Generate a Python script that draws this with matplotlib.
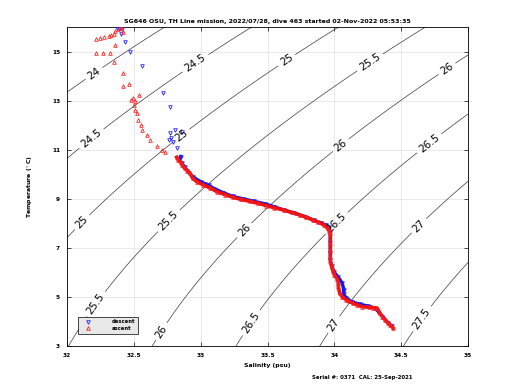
import numpy as np
import matplotlib
matplotlib.use("Agg")
import matplotlib.pyplot as plt

title = "SG646 OSU, TH Line mission, 2022/07/28, dive 463 started 02-Nov-2022 05:53:35"
footer = "Serial #: 0371  CAL: 25-Sep-2021"
x_ticks = [32, 32.5, 33, 33.5, 34, 34.5, 35]
y_ticks = [3, 5, 7, 9, 11, 13, 15]
sigma_levels = [24, 24.5, 25, 25.5, 26, 26.5, 27, 27.5]

# Descent (blue) salinity / temperature
desc_S = [32.37, 32.39, 32.41, 32.40, 32.43, 32.47, 32.56, 32.72, 32.77, 32.81,
          32.86, 32.77, 32.78, 32.76, 32.79, 32.82, 32.85, 32.84, 32.86, 32.88,
          32.90, 32.94, 33.00, 33.03, 33.06, 33.10, 33.17, 33.24, 33.32, 33.40,
          33.48, 33.55, 33.62, 33.70, 33.78, 33.85, 33.90, 33.94, 33.96, 33.97,
          33.97, 33.97, 33.97, 33.98, 34.00, 34.03, 34.06, 34.07, 34.07, 34.09,
          34.13, 34.19, 34.25, 34.30, 34.33, 34.36, 34.40, 34.43]
desc_T = [15.98, 15.95, 15.92, 15.75, 15.42, 15.00, 14.43, 13.31, 12.77, 11.82,
          11.75, 11.68, 11.50, 11.41, 11.34, 11.07, 10.73, 10.60, 10.45, 10.30,
          10.15, 9.90, 9.70, 9.62, 9.55, 9.42, 9.25, 9.10, 9.00, 8.90,
          8.80, 8.68, 8.55, 8.42, 8.28, 8.12, 8.02, 7.92, 7.80, 7.60,
          7.20, 6.80, 6.50, 6.25, 6.00, 5.80, 5.55, 5.30, 5.10, 4.95,
          4.80, 4.70, 4.63, 4.55, 4.40, 4.20, 3.95, 3.80]

# Ascent (red) salinity / temperature
asc_S = [34.44, 34.42, 34.40, 34.38, 34.36, 34.34, 34.32, 34.29, 34.26, 34.21,
         34.17, 34.14, 34.11, 34.09, 34.06, 34.04, 34.03, 34.03, 34.02, 34.00,
         33.99, 33.98, 33.97, 33.97, 33.97, 33.97, 33.97, 33.96, 33.95, 33.92,
         33.88, 33.84, 33.79, 33.74, 33.68, 33.62, 33.55, 33.49, 33.43, 33.37,
         33.30, 33.24, 33.18, 33.12, 33.07, 33.02, 32.97, 32.94, 32.92, 32.90,
         32.88, 32.86, 32.85, 32.83, 32.82,
         32.73, 32.71, 32.67, 32.62, 32.60, 32.56, 32.55, 32.53, 32.52, 32.51,
         32.50, 32.51, 32.49, 32.48, 32.54, 32.46, 32.42, 32.42, 32.35, 32.32,
         32.27, 32.22, 32.36, 32.22, 32.25, 32.28, 32.31, 32.33, 32.35, 32.36,
         32.38, 32.40, 32.42]
asc_T = [3.73, 3.85, 3.95, 4.06, 4.20, 4.33, 4.54, 4.56, 4.58, 4.60,
         4.68, 4.74, 4.82, 4.88, 5.00, 5.15, 5.40, 5.56, 5.75, 5.90,
         6.05, 6.24, 6.45, 6.64, 6.90, 7.19, 7.60, 7.70, 7.80, 7.95,
         8.05, 8.14, 8.25, 8.35, 8.45, 8.55, 8.64, 8.73, 8.82, 8.90,
         8.98, 9.07, 9.18, 9.30, 9.45, 9.57, 9.71, 9.84, 10.05, 10.15,
         10.25, 10.39, 10.50, 10.60, 10.70,
         10.93, 11.00, 11.14, 11.41, 11.60, 11.82, 12.00, 12.22, 12.50, 12.63,
         12.85, 13.00, 13.10, 13.04, 13.24, 13.69, 13.61, 14.12, 14.60, 14.95,
         14.95, 14.95, 15.29, 15.52, 15.56, 15.60, 15.65, 15.70, 15.75, 15.85,
         15.92, 15.96, 15.83]

label_pos = [(32.21, 14.06), (32.97, 14.47), (33.65, 14.60), (34.28, 14.47),
             (34.86, 14.18), (32.19, 11.41), (32.87, 11.49), (34.06, 11.12),
             (34.70, 11.33), (32.11, 8.06), (32.77, 8.06), (33.34, 7.65),
             (34.02, 8.00), (34.64, 7.87), (32.22, 4.70), (32.71, 3.58),
             (33.38, 3.94), (34.00, 3.86), (34.67, 4.06)]


def sigma0(S, T):
    rw = (999.842594 + 6.793952e-2 * T - 9.095290e-3 * T**2 + 1.001685e-4 * T**3
          - 1.120083e-6 * T**4 + 6.536332e-9 * T**5)
    A = 8.24493e-1 - 4.0899e-3 * T + 7.6438e-5 * T**2 - 8.2467e-7 * T**3 + 5.3875e-9 * T**4
    B = -5.72466e-3 + 1.0227e-4 * T - 1.6546e-6 * T**2
    C = 4.8314e-4
    return rw + A * S + B * S**1.5 + C * S**2 - 1000.0


fig = plt.figure(figsize=(5.2, 3.9), dpi=100)
ax = fig.add_axes([0.129, 0.113, 0.771, 0.818])

Sg, Tg = np.meshgrid(np.linspace(31.9, 35.1, 300), np.linspace(2.8, 16.3, 300))
cs = ax.contour(Sg, Tg, sigma0(Sg, Tg), levels=sigma_levels, colors='#3a3a3a',
                linewidths=0.5)
ax.clabel(cs, manual=label_pos, fmt='%g', fontsize=7.5, inline=True, inline_spacing=3,
          colors='k')

dS, dT = np.array(desc_S), np.array(desc_T)
aS, aT = np.array(asc_S), np.array(asc_T)
dd = dT < 10.8
ad = aT < 10.8
ax.plot(dS[dd], dT[dd], '-', color='#1010e0', lw=2.4, zorder=3)
ax.plot(dS, dT, 'v', color='#2020ff', ms=2.6, mfc='none', mew=0.6, ls='none', zorder=3,
        label='descent')
ax.plot(aS[ad], aT[ad], '-', color='#ee1010', lw=2.6, zorder=4)
ax.plot(aS, aT, '^', color='#ff2020', ms=2.6, mfc='none', mew=0.6, ls='none', zorder=4,
        label='ascent')

ax.set_xlim(32, 35)
ax.set_ylim(3, 16.02)
ax.set_xticks(x_ticks)
ax.set_xticklabels([f'{v:g}' for v in x_ticks])
ax.set_yticks(y_ticks)
ax.grid(True, color='#e0e0e0', lw=0.5)
ax.set_axisbelow(True)
ax.tick_params(direction='in', length=3, width=0.5, labelsize=4.2, top=True, right=True,
               pad=5)
for lab in ax.get_xticklabels() + ax.get_yticklabels():
    lab.set_fontweight('bold')
for sp in ax.spines.values():
    sp.set_linewidth(0.6)

ax.set_xlabel('Salinity (psu)', fontsize=4.4, fontweight='bold', labelpad=4)
ax.set_ylabel('Temperature ($^\\circ$C)', fontsize=4.4, fontweight='bold', labelpad=12)
ax.set_title(title, fontsize=4.5, fontweight='bold', pad=3)

leg = ax.legend(loc='lower left', bbox_to_anchor=(0.02, 0.03), fontsize=3.8,
                frameon=True, fancybox=False, edgecolor='k', facecolor='#e8e8e8',
                framealpha=1, handlelength=3, handletextpad=3, borderpad=0.5,
                labelspacing=0.3, markerfirst=True)
leg.get_frame().set_linewidth(0.5)
leg.set_zorder(10)
for t in leg.get_texts():
    t.set_fontweight('bold')

fig.text(0.6, 0.031, footer, fontsize=3.9, fontweight='bold', ha='left', va='center')

fig.savefig('out.png', dpi=100)
